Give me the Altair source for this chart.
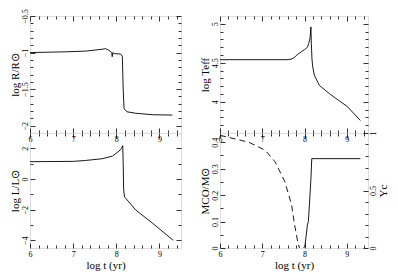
import altair as alt
import pandas as pd

FONT = "Liberation Serif"

# shared x axis (log t)
X_DOMAIN = [6, 9.5]
X_MAJOR = [6, 7, 8, 9]
X_MINOR = [6.2, 6.4, 6.6, 6.8, 7.2, 7.4, 7.6, 7.8, 8.2, 8.4, 8.6, 8.8, 9.2, 9.4]

# log R/Rsun
t_R = [6.0, 6.8, 7.29, 7.67, 7.75, 7.83, 7.895, 7.905, 7.92, 7.95, 8.10, 8.14, 8.16, 8.18, 8.25, 8.45, 8.84, 9.30]
logR = [-1.0, -0.99, -0.98, -0.955, -0.947, -0.968, -1.0, -1.057, -1.0, -1.015, -1.02, -1.05, -1.5, -1.77, -1.81, -1.83, -1.85, -1.855]
R_DOMAIN = [-2.1, -0.5]
R_MAJOR = [-2, -1.5, -1, -0.5]
R_MINOR = [-2.1, -1.9, -1.8, -1.7, -1.6, -1.4, -1.3, -1.2, -1.1, -0.9, -0.8, -0.7, -0.6]

# log Teff
t_T = [6.0, 7.61, 7.70, 7.76, 7.84, 7.92, 8.00, 8.07, 8.10, 8.13, 8.15, 8.16, 8.175, 8.19, 8.23, 8.35, 8.62, 9.01, 9.32]
logT = [4.54, 4.54, 4.55, 4.57, 4.61, 4.64, 4.67, 4.70, 4.75, 4.82, 4.96, 4.75, 4.55, 4.46, 4.34, 4.21, 4.09, 3.94, 3.76]
T_DOMAIN = [3.6, 5.1]
T_MAJOR = [4, 4.5, 5]
T_MINOR = [3.7, 3.8, 3.9, 4.1, 4.2, 4.3, 4.4, 4.6, 4.7, 4.8, 4.9]

# log L/Lsun
t_L = [6.0, 7.0, 7.29, 7.67, 7.91, 8.06, 8.12, 8.15, 8.16, 8.17, 8.19, 8.29, 8.45, 8.84, 9.32]
logL = [1.13, 1.15, 1.21, 1.32, 1.49, 1.81, 2.0, 2.17, 1.0, -0.64, -1.17, -1.49, -2.02, -2.88, -4.0]
L_DOMAIN = [-4.5, 3]
L_MAJOR = [-4, -2, 0, 2]
L_MINOR = [-3, -1, 1]

# M_CO/Msun (solid)
t_M = [7.98, 8.01, 8.07, 8.09, 8.15, 8.17, 9.32]
mco = [0.0, 0.01, 0.09, 0.10, 0.26, 0.338, 0.338]
M_DOMAIN = [0, 0.435]
M_MAJOR = [0, 0.1, 0.2, 0.3, 0.4]
M_MINOR = [0.05, 0.15, 0.25, 0.35]

# Y_c (dashed)
t_Y = [6.0, 6.68, 7.07, 7.30, 7.53, 7.69, 7.76, 7.84, 7.88]
Yc = [0.98, 0.92, 0.85, 0.75, 0.58, 0.38, 0.21, 0.05, 0.0]
Y_DOMAIN = [0, 1]
Y_MAJOR = [0, 0.5, 1]
Y_MINOR = [0.1, 0.2, 0.3, 0.4, 0.6, 0.7, 0.8, 0.9]

MAJ = 5
MIN = 3


def axis(orient, values, size, labels=False, title=None, **extra):
    kw = dict(orient=orient, values=values, tickSize=size, offset=-size, domain=False,
              grid=False, labels=labels, ticks=True, tickColor="black", tickWidth=0.8,
              title=title)
    if labels:
        kw.update(labelFont=FONT, labelFontSize=8, labelColor="black", format=".1~f")
        if orient == "left":
            kw.update(labelAngle=270, labelAlign="center", labelBaseline="bottom",
                      labelPadding=1)
        elif orient == "right":
            kw.update(labelAngle=270, labelAlign="center", labelBaseline="top",
                      labelPadding=1)
        else:
            kw.update(labelAngle=0, labelAlign="center", labelBaseline="top",
                      labelPadding=2)
    if title is not None:
        kw.update(titleFont=FONT, titleFontSize=11, titleFontWeight="normal",
                  titleColor="black", titlePadding=1)
    kw.update(extra)
    return alt.Axis(**kw)


def line(df, ydom, xax, yax, opacity=1.0, dash=None):
    mk = dict(color="black", strokeWidth=0.9, opacity=opacity)
    if dash is not None:
        mk["strokeDash"] = dash
    return alt.Chart(df).mark_line(**mk).encode(
        x=alt.X("t:Q", scale=alt.Scale(domain=X_DOMAIN, nice=False, zero=False), axis=xax),
        y=alt.Y("v:Q", scale=alt.Scale(domain=ydom, nice=False, zero=False), axis=yax),
    )


def panel(t, v, ydom, ymaj, ymin, ytitle, xtitle, w, h):
    df = pd.DataFrame({"t": t, "v": v})
    a = line(df, ydom, axis("bottom", X_MAJOR, MAJ, labels=True, title=xtitle),
             axis("left", ymaj, MAJ, labels=True, title=ytitle))
    b = line(df, ydom, axis("bottom", X_MINOR, MIN), axis("left", ymin, MIN), opacity=0)
    c = line(df, ydom, axis("top", X_MAJOR, MAJ), axis("right", ymaj, MAJ), opacity=0)
    d = line(df, ydom, axis("top", X_MINOR, MIN), axis("right", ymin, MIN), opacity=0)
    return alt.layer(a, b, c, d).resolve_axis(x="independent", y="independent").properties(
        width=w, height=h)


XT = "log t (yr)"
H_TOP = 117
H_BOT = 115
W_L = 151
W_R = 148

tl = panel(t_R, logR, R_DOMAIN, R_MAJOR, R_MINOR, "log R/R⊙", None, W_L, H_TOP)
tr = panel(t_T, logT, T_DOMAIN, T_MAJOR, T_MINOR, "log Teff", None, W_R, H_TOP)
bl = panel(t_L, logL, L_DOMAIN, L_MAJOR, L_MINOR, "log L/L⊙", XT, W_L, H_BOT)

dfM = pd.DataFrame({"t": t_M, "v": mco})
dfY = pd.DataFrame({"t": t_Y, "v": Yc})
m1 = line(dfM, M_DOMAIN, axis("bottom", X_MAJOR, MAJ, labels=True, title=XT),
          axis("left", M_MAJOR, MAJ, labels=True, title="MCO/M⊙"))
m2 = line(dfM, M_DOMAIN, axis("bottom", X_MINOR, MIN), axis("left", M_MINOR, MIN), opacity=0)
y1 = line(dfY, Y_DOMAIN, axis("top", X_MAJOR, MAJ),
          axis("right", Y_MAJOR, MAJ, labels=True, title="Yc", titleAngle=270,
               titleBaseline="top", titlePadding=0), dash=[6, 4])
y2 = line(dfY, Y_DOMAIN, axis("top", X_MINOR, MIN), axis("right", Y_MINOR, MIN), opacity=0)
br = alt.layer(m1, m2, y1, y2).resolve_scale(y="independent").resolve_axis(
    x="independent", y="independent").properties(width=W_R, height=H_BOT)

chart = alt.concat(tl, tr, bl, br, columns=2, spacing=alt.RowColnumber(row=0, column=39),
                   bounds="flush").configure_view(
    stroke="black", strokeWidth=1).configure(font=FONT, background="white", padding=0)

chart.save("out.html", embed_options={"renderer": "svg", "actions": False})
